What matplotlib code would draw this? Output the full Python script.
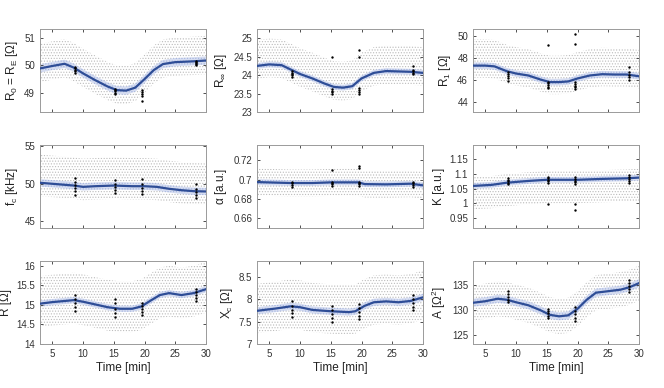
# Parâmetros do modelo ao longo do tempo (9 painéis)
import matplotlib.pyplot as plt
import numpy as np

plt.rcParams['font.family'] = ['Liberation Sans', 'DejaVu Sans']
plt.rcParams['mathtext.fontset'] = 'custom'
plt.rcParams['mathtext.rm'] = 'Liberation Sans'
plt.rcParams['mathtext.it'] = 'Liberation Sans'
plt.rcParams['hatch.linewidth'] = 0.5

# tendência (linha azul): tempos e valores por painel
t_R0 = [3, 5, 7, 8.5, 10, 12, 14, 15.5, 17, 18.5, 20, 21.5, 23, 25, 28, 30]
y_R0 = [49.89, 49.98, 50.06, 49.92, 49.71, 49.46, 49.23, 49.10, 49.08, 49.19,
        49.50, 49.83, 50.05, 50.12, 50.15, 50.18]
t_Rinf = [3, 5, 7, 8.5, 10, 12, 14, 15.5, 17, 18.5, 20, 22, 24, 26, 28, 30]
y_Rinf = [24.25, 24.29, 24.27, 24.15, 24.03, 23.91, 23.77, 23.68, 23.66, 23.70,
          23.91, 24.06, 24.11, 24.10, 24.09, 24.06]
t_R1 = [3, 5, 6.5, 8.5, 10, 12, 14, 15.5, 17, 18.5, 20, 22, 24, 26, 28, 30]
y_R1 = [47.27, 47.27, 47.20, 46.76, 46.55, 46.37, 46.00, 45.77, 45.77, 45.83,
        46.10, 46.37, 46.49, 46.46, 46.46, 46.30]
t_fc = [3, 8.5, 10, 12, 15, 18, 20, 22, 24, 26, 28, 30]
y_fc = [50.1, 49.73, 49.55, 49.64, 49.73, 49.64, 49.64, 49.55, 49.29, 49.1, 48.97, 48.93]
t_alpha = [3, 8.5, 12, 15, 19.5, 20.5, 24, 28, 30]
y_alpha = [0.6976, 0.6966, 0.6966, 0.6973, 0.6973, 0.6955, 0.6952, 0.6959, 0.6942]
t_K = [3, 6, 8.5, 12, 15, 18, 20, 24, 28, 30]
y_K = [1.059, 1.0625, 1.070, 1.076, 1.080, 1.080, 1.080, 1.083, 1.085, 1.0875]
t_R = [3, 5, 8.5, 10, 12, 14, 16, 18, 19.5, 21, 22.5, 24, 26, 28, 30]
y_R = [15.03, 15.07, 15.12, 15.08, 15.01, 14.94, 14.90, 14.90, 14.96, 15.11,
       15.25, 15.30, 15.25, 15.30, 15.40]
t_Xc = [3, 6, 8.5, 10, 12, 15, 18, 19, 20.5, 22, 24, 26, 28, 30]
y_Xc = [7.74, 7.79, 7.84, 7.82, 7.76, 7.73, 7.71, 7.73, 7.85, 7.93, 7.95, 7.93, 7.96, 8.04]
t_A = [3, 5, 7, 8.5, 10, 12, 14, 15.5, 17, 18.5, 20, 21.5, 23, 25, 27, 28.5, 30]
y_A = [131.4, 131.7, 132.2, 132.0, 131.5, 130.9, 129.9, 129.0, 128.7, 128.9,
       130.2, 132.0, 133.4, 133.7, 134.0, 134.5, 135.3]

# medições pontuais (pontos pretos) nos 4 instantes
t_med = [8.7, 15.2, 19.6, 28.3]
med_R0 = [[49.72, 49.78, 49.84, 49.9, 49.95], [48.95, 49.0, 49.05, 49.1, 49.15],
          [48.7, 48.88, 48.95, 49.02, 49.1], [50.0, 50.04, 50.08, 50.12, 50.15]]
med_Rinf = [[23.95, 23.99, 24.03, 24.07, 24.1], [23.5, 23.54, 23.58, 23.62, 24.48],
            [23.5, 23.55, 23.6, 23.65, 24.48, 24.68], [24.03, 24.07, 24.11, 24.15, 24.25]]
med_R1 = [[45.9, 46.1, 46.3, 46.5, 46.7], [45.2, 45.35, 45.5, 45.65, 45.8, 49.1],
          [45.1, 45.3, 45.45, 45.6, 45.8, 49.2, 50.1], [46.0, 46.2, 46.4, 46.7, 47.1]]
med_fc = [[48.5, 49.0, 49.4, 49.8, 50.2, 50.7], [48.7, 49.1, 49.5, 49.9, 50.5],
          [48.6, 49.0, 49.4, 49.9, 50.6], [48.0, 48.4, 48.8, 49.3, 50.0]]
med_alpha = [[0.693, 0.695, 0.6965, 0.698], [0.694, 0.6955, 0.697, 0.698, 0.710],
             [0.694, 0.6955, 0.697, 0.698, 0.712, 0.714], [0.693, 0.695, 0.6965, 0.698]]
med_K = [[1.065, 1.07, 1.075, 1.08, 1.085], [1.07, 1.075, 1.08, 1.085, 1.09, 0.998],
         [1.065, 1.071, 1.077, 1.084, 1.09, 0.997, 0.977], [1.07, 1.076, 1.082, 1.089, 1.095]]
med_R = [[14.85, 14.95, 15.05, 15.15, 15.25], [14.7, 14.8, 14.9, 15.05, 15.15],
         [14.75, 14.82, 14.9, 14.98, 15.05], [15.1, 15.18, 15.25, 15.32, 15.4]]
med_Xc = [[7.6, 7.68, 7.76, 7.85, 7.95], [7.5, 7.58, 7.66, 7.76, 7.85],
          [7.55, 7.63, 7.72, 7.8, 7.9], [7.75, 7.83, 7.92, 8.0, 8.1]]
med_A = [[131.5, 132.0, 132.6, 133.2, 133.7], [128.3, 128.8, 129.3, 129.8, 130.2],
         [127.7, 128.4, 129.1, 129.8, 130.5], [133.5, 134.1, 134.7, 135.4, 136.0]]

# faixa de dispersão: (acima, abaixo) da nuvem cinza e meia-largura da faixa azul
disp_cinza = [(0.9, 0.5), (0.7, 0.35), (2.4, 1.1), (3.8, 1.8), (0.014, 0.014),
              (0.03, 0.08), (0.7, 0.6), (0.6, 0.5), (3.5, 3.5)]
disp_azul = [0.15, 0.08, 0.3, 0.5, 0.003, 0.01, 0.08, 0.08, 0.8]

rotulos = ['R$_0$ = R$_E$ [Ω]', 'R$_\\infty$ [Ω]', 'R$_1$ [Ω]',
           'f$_c$ [kHz]', '$\\alpha$ [a.u.]', 'K [a.u.]',
           'R [Ω]', 'X$_c$ [Ω]', 'A [Ω$^2$]']
limites = [(48.3, 51.33), (23, 25.25), (43.05, 50.6),
           (44, 55.2), (0.65, 0.736), (0.915, 1.199),
           (14, 16.12), (7, 8.85), (123.2, 139.7)]
yticks = [[49, 50, 51], [23, 23.5, 24, 24.5, 25], [44, 46, 48, 50],
          [45, 50, 55], [0.66, 0.68, 0.7, 0.72], [0.95, 1, 1.05, 1.1, 1.15],
          [14, 14.5, 15, 15.5, 16], [7, 7.5, 8, 8.5], [125, 130, 135]]

tendencias = [(t_R0, y_R0), (t_Rinf, y_Rinf), (t_R1, y_R1),
              (t_fc, y_fc), (t_alpha, y_alpha), (t_K, y_K),
              (t_R, y_R), (t_Xc, y_Xc), (t_A, y_A)]
medicoes = [med_R0, med_Rinf, med_R1, med_fc, med_alpha, med_K, med_R, med_Xc, med_A]

W, H = 664, 388
x_esq = [40, 257, 473]
larg = 166
y_topo = [29, 145, 261]
alt = 83

fig = plt.figure(figsize=(W / 100, H / 100), dpi=100)
for i in range(9):
    lin, col = divmod(i, 3)
    ax = fig.add_axes([x_esq[col] / W, 1 - (y_topo[lin] + alt) / H, larg / W, alt / H])
    tt = np.array(tendencias[i][0], float)
    yy = np.array(tendencias[i][1], float)
    up, dn = disp_cinza[i]
    ax.fill_between(tt, yy - dn, yy + up, facecolor='none', edgecolor='#bcbcbc',
                    hatch='......', linewidth=0)
    b = disp_azul[i]
    ax.fill_between(tt, yy - b, yy + b, facecolor='#d6ddf1', edgecolor='#a3b3de',
                    hatch='......', linewidth=0)
    ax.plot(tt, yy, color='#2e4d96', lw=1.6, zorder=3)
    for tm, vals in zip(t_med, medicoes[i]):
        ax.scatter(np.full(len(vals), tm), vals, s=3, color='black', zorder=4,
                   linewidths=0)
    ax.set_xlim(3, 30)
    ax.set_ylim(*limites[i])
    ax.set_yticks(yticks[i])
    ax.set_yticklabels([f'{v:g}' for v in yticks[i]])
    ax.set_xticks([5, 10, 15, 20, 25, 30])
    ax.tick_params(direction='in', length=2.5, width=0.6, labelsize=7,
                   colors='#333333', top=True, right=True)
    for s in ax.spines.values():
        s.set_color('#9a9a9a')
        s.set_linewidth(0.7)
    ax.set_ylabel(rotulos[i], fontsize=8.5, color='#222222', labelpad=3)
    if lin < 2:
        ax.set_xticklabels([])
    else:
        ax.set_xlabel('Time [min]', fontsize=8.5, color='#222222', labelpad=2)

fig.savefig('out.png', dpi=100)
